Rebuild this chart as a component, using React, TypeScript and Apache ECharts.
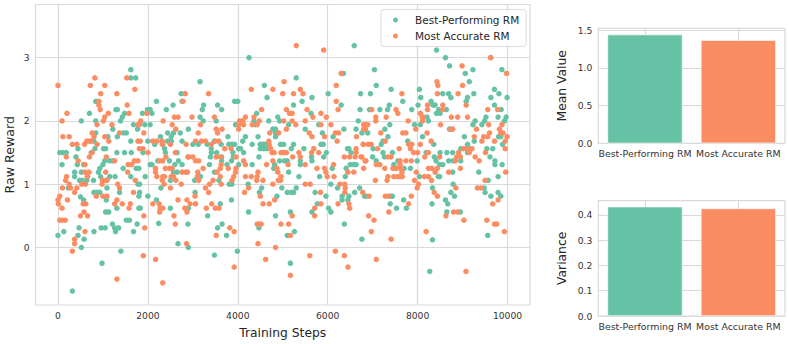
import React, { useEffect, useRef } from "react";
import * as echarts from "echarts";

const GREEN = "#66c2a5";
const ORANGE = "#fc8d62";
const seriesNames = ["Best-Performing RM", "Most Accurate RM"];
const xTicks = [0, 2000, 4000, 6000, 8000, 10000];
const yTicks = [0, 1, 2, 3];
const meanTicks = [0, 0.5, 1, 1.5];
const varianceTicks = [0, 0.1, 0.2, 0.3, 0.4];
const meanValues = [1.44, 1.365];
const varianceValues = [0.433, 0.426];

const bestPerforming: number[][] = [
[0,.19],[40,1.5],[110,1.5],[185,1.5],[90,1.31],[130,.25],[230,.94],[320,-.69],[400,1.43],[370,1.19],[370,1.12],[445,1.56],[430,1.31],[470,.31],[445,.19],
[480,1.06],[540,1.06],[520,1.19],[520,0],[520,2],[500,.8],[570,.75],[580,.13],[570,1.31],[640,1.06],[660,1.12],[700,2.12],[790,1.06],[740,1.5],[820,1.56],
[840,1.81],[800,1.68],[840,2.31],[840,2],[800,.87],[870,.87],[930,.87],[800,.25],[900,1.19],[950,1.12],[930,1.25],[1000,1.31],[1040,1.37],[960,.31],[1050,.31],
[980,-.25],[1015,1.56],[1060,1.56],[1075,.75],[1090,.94],[1060,.56],[1130,.56],[1110,1.75],[1150,1.37],[1220,1.37],[1150,1.12],[1270,1.12],[1210,.37],[1260,.31],[1280,.25],[1350,.31],
[1220,1.87],[1290,2.18],[1320,2.18],[1310,1.5],[1310,.62],[1370,.87],[1320,1.75],[1390,2],[1430,2.06],[1480,2.12],[1400,-.06],[1460,1.81],[1520,1.81],[1480,1.5],[1450,1.25],
[1520,.43],[1590,.43],[1620,1.68],[1630,1.5],[1620,1.12],[1620,2.81],[1620,2.68],[1730,2.68],[1680,1.94],[1680,.25],[1770,1.87],[1760,.37],[1740,1.25],[1800,1.25],[1780,1],[1815,1],
[1815,.87],[1800,.81],[1800,.62],[1830,.62],[1890,1.5],[1930,1.94],[2050,1.94],[1880,2.12],[1990,2.18],[2050,2.18],[2090,2.12],[2150,1.63],[2000,.81],[1940,1.12],[2050,1.31],[2090,1.31],
[2000,1.68],[2190,2.31],[2190,.75],[2240,.38],[2290,.94],[2280,1.75],[2330,1.63],[2370,1.56],[2390,1.5],[2410,2.18],[2220,1.37],[2440,1.81],[2500,.62],[2500,1.06],[2480,1.37],[2560,2.25],
[2520,1.75],[2570,1.81],[2440,1.68],[2520,1.68],[2600,1.31],[2570,1.19],[2650,1.19],[2650,1.5],[2670,.06],[2680,1.37],[2760,1.31],[2740,2.43],[2760,2.31],[2720,1.81],[2760,1.68],[2900,1.87],
[2890,.37],[2900,0],[2900,.62],[3000,1.63],[3120,1.63],[3160,2.62],[3210,2.18],[3240,2.25],[3160,2.06],[3230,2],[3320,1.63],[3040,1.06],[3170,1.12],[3050,.87],[3330,.5],[3370,1.31],
[3390,1.43],[3410,1.5],[3410,1.56],[3480,1.68],[3480,-.12],[3520,2],[3550,2.25],[3640,2.18],[3530,1.5],[3630,1.63],[3640,1.43],[3640,1.37],[3480,1.19],[3580,1.06],[3550,.31],[3650,.37],[3750,.19],
[3610,.69],[3780,1.75],[3800,1.63],[3870,1.63],[3930,1.63],[3760,1.31],[3860,1.37],[3900,1.43],[3810,1],[3870,1],[3860,.75],[3930,2.31],[4000,2.31],[3950,1.94],[3890,1.5],[3990,-.06],
[4020,1.56],[4060,1.56],[4020,1.31],[4110,1.68],[4170,1.75],[4130,1.5],[4230,1],[4240,.56],[4250,3],[4320,1.31],[4320,1.63],[4360,2],[4390,1.94],[4420,2.12],[4450,1.75],[4470,1.43],
[4480,.87],[4530,.94],[4470,.31],[4500,1.63],[4540,1.63],[4580,1.63],[4620,1.63],[4500,1.56],[4580,1.56],[4650,1.56],[4590,2.56],[4650,2.37],[4690,2],[4780,1.87],[4840,1.87],[4840,1.81],[4840,1.75],
[4820,1.31],[4800,1.25],[4870,.81],[4840,.5],[4890,2.06],[4930,2],[4950,1.63],[5020,1.63],[4930,1.37],[5040,1.37],[5100,1.37],[4980,.94],[5100,.87],[5190,.87],[5130,1.19],[5100,.19],[5260,.25],
[5170,.56],[5170,-.25],[5190,1.56],[5240,1.63],[5130,1.94],[5240,2.25],[5300,2.68],[5240,.87],[5300,.94],[5360,1.12],[5390,1.37],[5390,1.31],[5430,2.31],[5470,1.56],[5500,1.87],[5630,2.12],[5650,2.37],
[5640,1.43],[5650,1.37],[5720,.87],[5650,.56],[5800,1.94],[5880,1.81],[5820,1.12],[5770,.69],[5850,1.63],[5900,1.63],[5910,1.43],[5970,1.5],[5960,.81],[6010,2.43],[6020,.62],[6070,.56],[6070,1],
[6120,1.75],[6100,1.25],[6220,.94],[6300,2.25],[6360,1.87],[6350,2.75],[6320,.81],[6320,.75],[6370,.37],[6440,1.56],[6470,1.56],[6520,1.5],[6390,1.12],[6410,1.25],[6470,.81],[6450,.75],
[6500,1.31],[6580,1.31],[6630,1.31],[6600,.87],[6590,3.19],[6630,1.87],[6680,2],[6710,.94],[6730,2.43],[6720,2.18],[6760,1.81],[6760,.13],[6820,.81],[6950,2.43],[6930,2.18],[7040,2.81],[7080,2.56],
[6890,1.81],[7010,1.56],[7080,1.37],[7000,1.43],[7160,2.18],[7330,2.18],[7370,2.25],[7410,2.5],[7270,1.87],[7380,1.94],[7340,1.75],[7230,1.68],[7190,1.63],[7230,1.5],[7260,1.43],[7440,1.5],
[6850,.81],[7390,.81],[7440,.81],[7390,.69],[7530,.62],[7690,.75],[7750,.62],[7470,1.31],[7500,1.25],[7560,1.37],[7670,2.31],[7700,1.25],[7840,1.25],[7780,1.68],[7870,2.18],[7930,1.94],[7990,1.37],
[8010,2.25],[8040,2.5],[8070,2.37],[8060,1.94],[8040,1.12],[8110,1.75],[8210,2.06],[8240,2],[8190,1.5],[8270,-.38],[8300,2.31],[8340,2.25],[8390,2.25],[8330,.94],[8320,.69],[8330,.12],[8360,1.63],
[8370,1.43],[8410,1.37],[8420,3.12],[8420,2.12],[8470,2.18],[8500,2.12],[8620,3],[8710,2.87],[8500,1.5],[8490,1.31],[8560,1.31],[8460,1.12],[8490,1.12],[8560,2.43],[8690,2.43],[8740,2.37],[8640,2.18],
[8620,.75],[8670,.69],[8650,.56],[8650,1.5],[8780,1.5],[8690,1.37],[8790,1.37],[8780,1.19],[8790,1],[8740,.87],[8820,.81],[8710,1.87],[8950,.56],[8960,1.37],[8960,1.56],[9060,2.75],[9150,2.62],
[9230,2.81],[9250,2.43],[9080,2.31],[9110,2.37],[9040,1.75],[9110,1.63],[9170,1.56],[9110,1.5],[9230,1.94],[9280,2],[9260,1.68],[9360,1.19],[9480,.94],[9500,.87],[9430,1.94],[9490,2],[9520,2.06],
[9540,1.56],[9610,1.43],[9570,1.06],[9560,.19],[9630,2.37],[9630,.81],[9670,1.56],[9710,2.5],[9810,2.43],[9710,2.25],[9790,2.06],[9720,1.37],[9720,1.31],[9790,1.12],[9790,.87],[9850,.81],[9800,1.75],
[9850,1.75],[9860,2.18],[9875,2.81],[9880,1.31],[9890,1.63],[9930,2],[9970,2.06],[9990,2.37],[9630,3]
];

const mostAccurate: number[][] = [
[0,2.56],[0,.75],[10,.69],[40,.81],[40,.43],[90,.43],[90,.62],[90,2],[110,1.75],[100,.94],[160,.43],[170,1.06],[190,1.12],[185,1.43],[200,2.12],[210,.75],[250,1.75],[250,1],[280,.94],[320,1.63],[420,1.63],
[320,-.06],[370,.13],[370,.06],[370,.87],[420,.94],[450,1.37],[500,.5],[530,1],[610,1],[560,.69],[620,.69],[580,.56],[590,1.63],[600,.25],[600,1.31],[600,1.19],[690,1.19],[660,.5],[640,1.68],[700,1.68],[740,1.68],
[650,1.12],[720,2.56],[700,1.43],[760,1.5],[760,1.81],[800,1.75],[820,2.68],[850,.81],[870,1.94],[870,1.63],[910,2.31],[910,2.25],[940,2.18],[950,2.43],[990,1.06],[1060,1.06],[1090,1.06],[1000,.81],[1090,.81],
[980,1],[1010,2],[1040,2.06],[1040,2.56],[1040,1.75],[1075,1.43],[1060,1.19],[1120,2.12],[1130,1.68],[1200,1.94],[1260,1.37],[1260,.69],[1310,.75],[1310,-.5],[1310,2.43],[1330,1],[1370,.94],[1370,1.81],[1430,.69],
[1530,2.68],[1540,2.25],[1550,1.19],[1580,2.12],[1580,.62],[1610,.69],[1560,1.31],[1640,1.31],[1680,.87],[1700,1.37],[1780,1.37],[1720,1.06],[1710,2.5],[1780,1.94],[1810,1.94],[1840,2],[1780,1.68],[1830,1.68],
[1810,1.56],[1890,1.56],[1910,.5],[1930,.31],[1910,1.81],[1900,-.13],[2000,1.5],[1980,2.12],[2110,1.68],[2200,1.68],[2110,.69],[2170,1.25],[2170,1.19],[2200,1.12],[2170,-.19],[2250,.69],[2270,.62],[2260,.56],[2330,.62],
[2260,1.37],[2330,1.37],[2330,1.12],[2320,1.06],[2370,1.12],[2360,1],[2330,-.56],[2340,2],[2320,1.68],[2320,1.63],[2400,1.43],[2390,1.25],[2480,1.25],[2540,1.25],[2500,1.63],[2500,.94],[2540,1.94],[2520,1.12],[2570,1.12],
[2580,.5],[2610,.37],[2590,2.06],[2670,2.06],[2620,1.87],[2610,1.5],[2620,1.06],[2670,.75],[2740,1],[2760,1.19],[2840,1.19],[2830,2.43],[2780,2.31],[2820,.62],[2850,1.63],[2860,.06],[2870,.75],[2890,1.43],[2870,.56],
[2980,2.06],[3170,1.94],[3120,1.81],[3060,1.68],[3190,1.68],[3280,1.68],[3410,1.63],[2910,1.43],[3000,1.43],[3060,1.37],[3130,1.37],[2880,1.19],[3230,1.25],[3110,1.19],[3100,1.12],[3130,1.06],[2940,.69],[3060,.69],
[3050,.81],[3280,.94],[3350,.87],[3370,1],[3450,1.06],[3300,.62],[3420,.69],[3500,.62],[3580,.62],[3520,.19],[3350,2.43],[3480,2.06],[3520,1.87],[3550,1.81],[3650,1.87],[3500,1.68],[3580,1.68],[3520,1.43],[3610,1.43],
[3630,1.31],[3610,1.25],[3540,1.19],[3610,1.12],[3630,1],[3710,1.56],[3850,1.56],[3790,1.25],[3960,1.25],[3950,1.19],[3910,1.12],[3870,1.06],[3960,1.43],[3820,.31],[3920,.25],[3920,-.31],[4020,1.94],[4130,1.94],
[4020,1.87],[4170,2.06],[4110,2],[4040,2],[4130,1.37],[4170,1.31],[4170,1.12],[4300,1.12],[4240,.94],[4150,.87],[4300,2.5],[4320,1.94],[4360,2.06],[4430,1.94],[4480,2],[4530,2.18],[4430,1.12],[4450,1.19],[4420,1.06],
[4560,1.06],[4500,.81],[4560,.69],[4700,.69],[4820,.75],[4430,.37],[4480,.37],[4520,.37],[4450,.06],[4620,-.19],[4640,1.31],[4690,1.68],[4700,1.63],[4730,1.56],[4760,1.5],[4810,1.5],[4710,1.81],[4780,2.5],[4780,1.37],
[4780,1],[4840,0],[4870,1.25],[4890,1.19],[4960,1.12],[4950,1.06],[4900,1.06],[4910,1.81],[5000,2.43],[5030,2.62],[5020,2],[4960,1.5],[5020,1.5],[5080,1.5],[5080,1.87],[5080,2.18],[5150,2.12],[5210,2.12],[5210,2],
[5290,1.94],[5220,1.43],[5120,1.31],[4960,.37],[5130,.37],[5210,.5],[5170,.19],[5170,-.44],[5300,3.19],[5240,2.43],[5390,2.5],[5450,2.43],[5360,1.5],[5390,1.43],[5500,1.31],[5500,2],[5500,1],[5610,1],[5540,2.18],
[5670,2.06],[5590,1.81],[5650,1.75],[5690,1.56],[5640,1.5],[5600,-.13],[5710,.62],[5710,.5],[5760,1.25],[5800,1.5],[5850,2.12],[5850,1.94],[5840,.87],[5850,.69],[5910,3.12],[5930,1.75],[5930,1.25],[5960,1.19],[5990,1.12],
[5970,2.06],[6070,1.94],[6130,1.31],[6140,1.12],[6190,2.56],[6190,2.31],[6230,2.18],[6300,2.75],[6170,1.81],[6240,1.81],[6210,1.68],[6170,-.06],[6270,1],[6380,1],[6390,.94],[6380,.87],[6230,.69],[6470,.69],[6490,.62],
[6370,1.43],[6490,1.43],[6370,-.13],[6450,-.31],[6580,1.19],[6450,1.19],[6630,1.56],[6630,1.5],[6640,1.75],[6610,1.43],[6740,1.43],[6790,1.63],[6800,1.87],[6800,1.94],[6830,1.37],[6910,.5],[7030,.43],[6970,.25],[7080,-.19],
[6980,2.18],[7070,2.06],[7070,2],[6840,1.94],[6890,1.94],[6840,1.87],[7180,1.81],[7300,2.06],[7280,1.68],[7110,1.56],[6900,1.63],[6790,1.63],[6970,1.63],[6760,1.43],[6850,1.37],[6800,1.25],[7080,1.31],[7160,1.31],[7270,1.25],
[7060,1.06],[7320,1.06],[7340,1.12],[7280,.81],[7350,.81],[7360,.56],[6920,.81],[6780,.87],[7410,.13],[7340,1.43],[7410,1.43],[7450,1.25],[7540,1.25],[7470,1.12],[7560,1.12],[7610,1.12],[7520,2.18],[7560,2.12],[7650,2.43],
[7590,1.56],[7610,1.37],[7610,1.31],[7630,1.25],[7650,1.19],[7660,1.12],[7740,1.37],[7860,1.37],[7670,1.81],[7740,1.81],[7790,2],[7800,1.63],[7840,1.56],[7870,1.63],[7800,.69],[7860,.81],[7910,1.5],[8000,1.5],[7930,1.06],
[7960,1.87],[7990,.94],[8020,1],[7970,1.19],[8060,1.63],[8060,2.12],[8100,2.06],[8110,2],[8130,2.06],[8150,1.12],[8240,1.12],[8190,.25],[8210,1.81],[8160,1.43],[8240,1.5],[8220,2.25],[8220,2.18],[8240,1.25],[8320,1.25],
[8300,1.68],[8310,1.06],[8370,.87],[8440,.81],[8390,1.19],[8440,1.25],[8430,2.62],[8450,2.56],[8440,2.43],[8490,1.43],[8510,1.94],[8560,2.25],[8560,2.18],[8630,.5],[8690,1.19],[8750,2.06],[8890,2.06],[8740,1.87],[8780,1.87],
[8850,.94],[8800,.56],[8890,.56],[8840,1.37],[8870,1.43],[8910,1.5],[8950,1.43],[8950,1.25],[8900,2.43],[8990,2.87],[9000,2.56],[9080,2.25],[9110,2.06],[9075,-.38],[9030,.43],[9020,1.56],[9080,1.56],[9210,1.56],[9150,1.5],
[9260,1.75],[9310,1.87],[9280,1.43],[9370,1.37],[9330,.94],[9410,.94],[9470,1.75],[9560,1.75],[9600,1.81],[9430,1.68],[9510,1.5],[9500,1.06],[9580,1.94],[9560,2.18],[9540,.43],[9670,.69],[9790,.75],[9620,3],[9710,1.68],
[9710,.37],[9760,.37],[9780,2.18],[9820,1.87],[9850,1.81],[9875,1.94],[9900,1.81],[9930,.25],[9980,2.75],[9960,1.19],[9950,1.68],[9950,1.56],[9990,1.75]
];

const FONT = "'DejaVu Sans'";
const TEXT = "#262626";
const LINE = "#d9d9d9";

function valueAxis(gridIndex: number, ticks: number[], min: number, max: number, name: string, gap: number, size: number, formatter: (v: number) => string) {
  return {
    type: "value", gridIndex, min, max, scale: false,
    name, nameLocation: "middle", nameGap: gap, nameMoveOverlap: false,
    nameTextStyle: { fontFamily: FONT, fontSize: size, color: TEXT },
    axisLine: { show: false },
    axisTick: { show: false, customValues: ticks },
    axisLabel: { customValues: ticks, fontFamily: FONT, fontSize: 9.2, color: "#333333", margin: 6, formatter },
    splitLine: { show: true, lineStyle: { color: LINE, width: 1.2 } },
  };
}

function categoryAxis(gridIndex: number) {
  return {
    type: "category", gridIndex, data: seriesNames,
    axisLine: { show: false },
    axisTick: { show: false, alignWithLabel: true },
    axisLabel: { interval: 0, fontFamily: FONT, fontSize: 9.4, color: "#333333", margin: 6 },
    splitLine: { show: true, alignWithLabel: true, lineStyle: { color: LINE, width: 1.2 } },
  };
}

function gridBox(left: number, top: number, right: number, bottom: number) {
  return { left, top, width: right - left, height: bottom - top, outerBoundsMode: "none", show: true, borderColor: LINE, borderWidth: 1.2, backgroundColor: "#ffffff" };
}

function barSeries(index: number, values: number[]) {
  return {
    type: "bar", xAxisIndex: index, yAxisIndex: index, barWidth: 75,
    data: values.map((value, i) => ({ value, itemStyle: { color: i === 0 ? GREEN : ORANGE, borderColor: "#ffffff", borderWidth: 0.6 } })),
  };
}

const plain = (v: number) => String(v);
const oneDecimal = (v: number) => v.toFixed(1);

export default function App() {
  const ref = useRef<HTMLDivElement>(null);
  useEffect(() => {
    const chart = echarts.init(ref.current!, undefined, { renderer: "svg" });
    chart.setOption({
      animation: false,
      backgroundColor: "#ffffff",
      grid: [gridBox(35.5, 4.5, 530, 305), gridBox(598.3, 28.3, 785, 143.3), gridBox(598.3, 200.7, 785, 316)],
      xAxis: [
        valueAxis(0, xTicks, -500, 10500, "Training Steps", 22, 12.3, plain),
        categoryAxis(1),
        categoryAxis(2),
      ],
      yAxis: [
        valueAxis(0, yTicks, -0.91, 3.84, "Raw Reward", 20, 12.6, plain),
        valueAxis(1, meanTicks, 0, 1.523, "Mean Value", 30, 12.3, oneDecimal),
        valueAxis(2, varianceTicks, 0, 0.4566, "Variance", 30, 12.3, oneDecimal),
      ],
      legend: {
        data: seriesNames,
        orient: "vertical", left: 381, top: 9.5,
        icon: "circle", itemWidth: 5, itemHeight: 5, itemGap: 5,
        padding: [5, 7, 5, 12],
        backgroundColor: "rgba(255,255,255,0.8)", borderColor: "#dddddd", borderWidth: 1, borderRadius: 3,
        textStyle: { fontFamily: FONT, fontSize: 10.5, color: TEXT, padding: [0, 0, 0, 12] },
      },
      series: [
        { name: seriesNames[0], type: "scatter", xAxisIndex: 0, yAxisIndex: 0, symbolSize: 5.5, itemStyle: { color: GREEN, opacity: 1 }, data: bestPerforming },
        { name: seriesNames[1], type: "scatter", xAxisIndex: 0, yAxisIndex: 0, symbolSize: 5.5, itemStyle: { color: ORANGE, opacity: 1 }, data: mostAccurate },
        barSeries(1, meanValues),
        barSeries(2, varianceValues),
      ],
    });
    return () => chart.dispose();
  }, []);
  return <div ref={ref} style={{ position: "fixed", left: 0, top: 0, width: 789, height: 344 }} />;
}
